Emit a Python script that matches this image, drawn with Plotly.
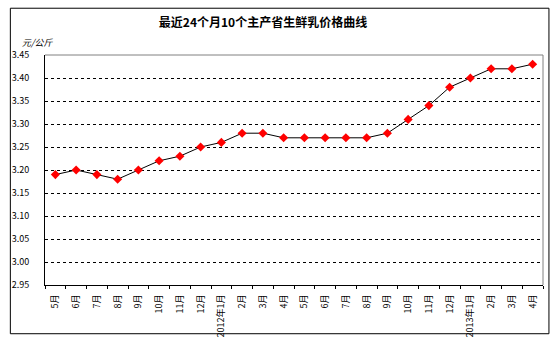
import plotly.graph_objects as go

# Monthly fresh-milk prices (yuan/kg), May 2011 - Apr 2013
months = ["5月", "6月", "7月", "8月", "9月", "10月", "11月", "12月",
          "2012年1月", "2月", "3月", "4月", "5月", "6月", "7月", "8月",
          "9月", "10月", "11月", "12月", "2013年1月", "2月", "3月", "4月"]
prices = [3.19, 3.20, 3.19, 3.18, 3.20, 3.22, 3.23, 3.25,
          3.26, 3.28, 3.28, 3.27, 3.27, 3.27, 3.27, 3.27,
          3.28, 3.31, 3.34, 3.38, 3.40, 3.42, 3.42, 3.43]
y_ticks = [2.95, 3.00, 3.05, 3.10, 3.15, 3.20, 3.25, 3.30, 3.35, 3.40, 3.45]

title_text = "最近24个月10个主产省生鲜乳价格曲线"
unit_text = "元/公斤"

W, H = 555, 350
ML, MR, MT, MB = 40, 12, 55, 59
PW, PH = W - ML - MR, H - MT - MB


def px_x(x):
    return (x - ML) / PW


def px_y(y):
    return (H - MB - y) / PH


FONT = "Noto Sans CJK SC, SimSun, sans-serif"
idx = list(range(len(months)))

fig = go.Figure()
fig.add_trace(go.Scatter(
    x=idx, y=prices, mode="lines+markers",
    line=dict(color="black", width=1),
    marker=dict(symbol="diamond", size=7, color="#ff0000", line=dict(width=0)),
    hoverinfo="y", showlegend=False,
))

fig.update_layout(
    width=W, height=H,
    margin=dict(l=ML, r=MR, t=MT, b=MB, pad=0),
    paper_bgcolor="white", plot_bgcolor="white",
    font=dict(family=FONT, size=9, color="black"),
    title=dict(text="<b>" + title_text + "</b>", xref="container", yref="container",
               x=263 / W, y=1 - 23 / H, xanchor="center", yanchor="middle",
               font=dict(family=FONT, size=12, color="black")),
    xaxis=dict(
        range=[-0.5, len(months) - 0.5],
        tickmode="array", tickvals=idx, ticktext=months,
        tickangle=-90, ticks="", ticklen=0,
        showgrid=False, zeroline=False,
        showline=True, linecolor="black", linewidth=1,
        minor=dict(tick0=0.5, dtick=1, ticks="outside", ticklen=3,
                   tickcolor="black", tickwidth=1, showgrid=False),
        ticklabelstandoff=5,
        tickfont=dict(family=FONT, size=9),
    ),
    yaxis=dict(
        range=[2.95, 3.45],
        tickmode="array", tickvals=y_ticks, tickformat=".2f",
        ticks="", showgrid=True, gridcolor="black", gridwidth=1, griddash="3px,3px",
        zeroline=False, showline=True, linecolor="black", linewidth=1,
        ticklabelstandoff=13,
        tickfont=dict(family=FONT, size=9),
    ),
    shapes=[
        # outer chart border
        dict(type="rect", xref="paper", yref="paper",
             x0=px_x(5), x1=px_x(549), y0=px_y(341), y1=px_y(7),
             line=dict(color="black", width=1), layer="below"),
        # grey frame on top and right of the plot area
        dict(type="line", xref="paper", yref="paper", x0=0, x1=1, y0=1, y1=1,
             line=dict(color="#808080", width=1), layer="above"),
        dict(type="line", xref="paper", yref="paper", x0=1, x1=1, y0=0, y1=1,
             line=dict(color="#808080", width=1), layer="above"),
    ],
    annotations=[
        dict(text="<i>" + unit_text + "</i>", xref="paper", yref="paper",
             x=px_x(15), y=px_y(42), xanchor="left", yanchor="middle",
             showarrow=False, font=dict(family=FONT, size=9, color="black")),
    ],
)

fig.write_html("out.html")
